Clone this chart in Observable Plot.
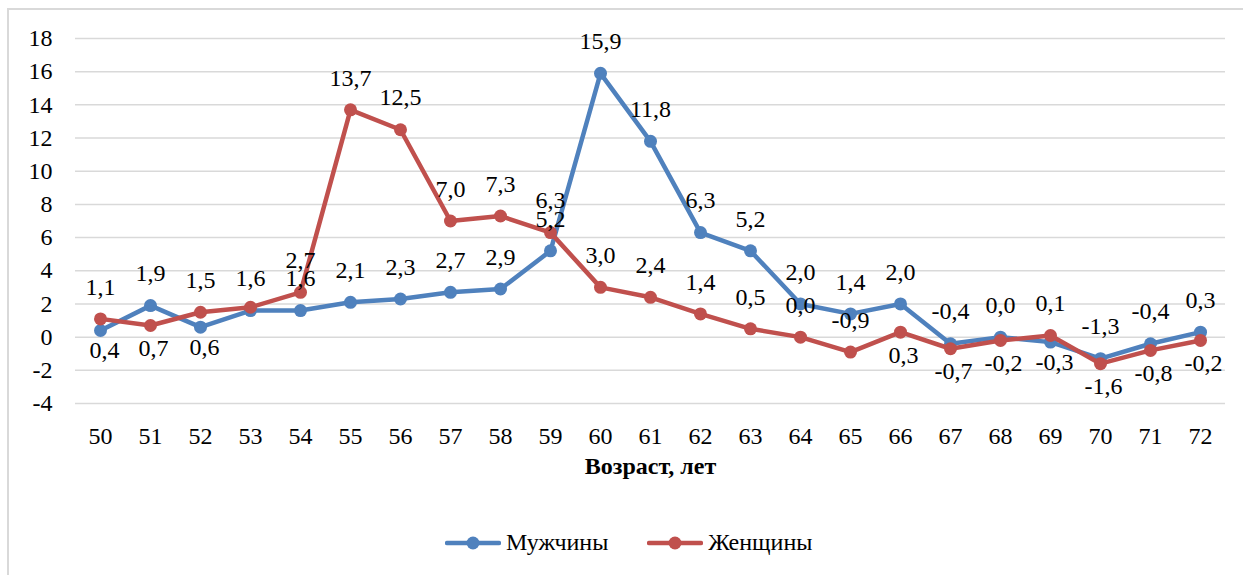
<!DOCTYPE html>
<html>
<head>
<meta charset="utf-8">
<script src="https://cdn.jsdelivr.net/npm/d3@7"></script>
<script src="https://cdn.jsdelivr.net/npm/@observablehq/plot@0.6"></script>
<style>
  html, body { margin: 0; padding: 0; background: #fff; }
  #wrap { position: relative; width: 1243px; height: 575px; overflow: hidden;
          font-family: "Liberation Serif", "DejaVu Serif", "Times New Roman", serif; color: #000; }
  #frame { position: absolute; left: 7px; top: 8px; width: 1300px; height: 700px;
           border: 2px solid #d9d9d9; box-sizing: border-box; pointer-events: none; }
  #chart svg { display: block; }
  #chart svg text { font-family: "Liberation Serif", "DejaVu Serif", "Times New Roman", serif; }
  #legend { height: 65px; display: flex; align-items: center; padding-left: 445px;
            box-sizing: border-box; font-size: 24px; }
  .item { display: flex; align-items: center; }
  .item svg { display: block; margin-right: 5px; }
  .item + .item { margin-left: 39px; }
</style>
</head>
<body>
<div id="wrap">
  <div id="chart"></div>
  <div id="legend"></div>
  <div id="frame"></div>
</div>
<script>
// ---- data ----
const ages = [50, 51, 52, 53, 54, 55, 56, 57, 58, 59, 60, 61, 62, 63, 64, 65, 66, 67, 68, 69, 70, 71, 72];
const male = [0.4, 1.9, 0.6, 1.6, 1.6, 2.1, 2.3, 2.7, 2.9, 5.2, 15.9, 11.8, 6.3, 5.2, 2.0, 1.4, 2.0, -0.4, 0.0, -0.3, -1.3, -0.4, 0.3];
const female = [1.1, 0.7, 1.5, 1.8, 2.7, 13.7, 12.5, 7.0, 7.3, 6.3, 3.0, 2.4, 1.4, 0.5, 0.0, -0.9, 0.3, -0.7, -0.2, 0.1, -1.6, -0.8, -0.2];
const yTicks = [-4, -2, 0, 2, 4, 6, 8, 10, 12, 14, 16, 18];
const seriesNames = ["Мужчины", "Женщины"];
const xTitle = "Возраст, лет";

// ---- label placement (layout) ----
const maleBelow = [50, 52, 69];
const femaleBelow = [51, 66, 67, 68, 70, 71, 72];
const femaleNoLabel = [53];

const colors = ["#4F81BD", "#C0504D"];
const fmt = v => v.toFixed(1).replace(".", ",");

const mRows = ages.map((a, i) => ({age: a, v: male[i]}));
const fRows = ages.map((a, i) => ({age: a, v: female[i]}));

const serif = "'Liberation Serif', 'DejaVu Serif', 'Times New Roman', serif";
const labelFont = {fontSize: 24, fill: "#000", fontFamily: serif};

const chart = Plot.plot({
  width: 1243,
  height: 510,
  marginLeft: 75,
  marginRight: 18,
  marginTop: 38,
  marginBottom: 107,
  x: {type: "point", domain: ages, padding: 0.5},
  y: {domain: [-4, 18]},
  style: {fontFamily: serif, fontSize: "24px", color: "#000", background: "transparent"},
  marks: [
    Plot.gridY(yTicks, {stroke: "#d9d9d9", strokeOpacity: 1, strokeWidth: 1.5}),
    Plot.axisY(yTicks, {tickSize: 0, tickPadding: 23, tickFormat: d => String(d), fontSize: 24, fontFamily: serif, label: null}),
    Plot.axisX(ages, {tickSize: 0, tickPadding: 23, tickFormat: d => String(d), fontSize: 24, fontFamily: serif, label: null}),
    Plot.text([xTitle], {frameAnchor: "bottom", dy: 70, fontWeight: "bold", ...labelFont}),
    Plot.line(mRows, {x: "age", y: "v", stroke: colors[0], strokeWidth: 4.5}),
    Plot.dot(mRows, {x: "age", y: "v", r: 6.5, fill: colors[0]}),
    Plot.line(fRows, {x: "age", y: "v", stroke: colors[1], strokeWidth: 4.5}),
    Plot.dot(fRows, {x: "age", y: "v", r: 6.5, fill: colors[1]}),
    Plot.text(mRows.filter(d => !maleBelow.includes(d.age)), {x: "age", y: "v", text: d => fmt(d.v), dy: -32, ...labelFont}),
    Plot.text(mRows.filter(d => maleBelow.includes(d.age)), {x: "age", y: "v", text: d => fmt(d.v), dy: 20, dx: 4, ...labelFont}),
    Plot.text(fRows.filter(d => !femaleBelow.includes(d.age) && !femaleNoLabel.includes(d.age)), {x: "age", y: "v", text: d => fmt(d.v), dy: -32, ...labelFont}),
    Plot.text(fRows.filter(d => femaleBelow.includes(d.age)), {x: "age", y: "v", text: d => fmt(d.v), dy: 23, dx: 3, ...labelFont})
  ]
});
document.getElementById("chart").appendChild(chart);

// ---- legend ----
const legend = document.getElementById("legend");
seriesNames.forEach((name, i) => {
  const item = document.createElement("div");
  item.className = "item";
  item.innerHTML = `<svg width="56" height="20"><line x1="2" y1="10" x2="54" y2="10" stroke="${colors[i]}" stroke-width="4.5" stroke-linecap="round"/><circle cx="28" cy="10" r="6.5" fill="${colors[i]}"/></svg><span>${name}</span>`;
  legend.appendChild(item);
});
</script>
</body>
</html>
